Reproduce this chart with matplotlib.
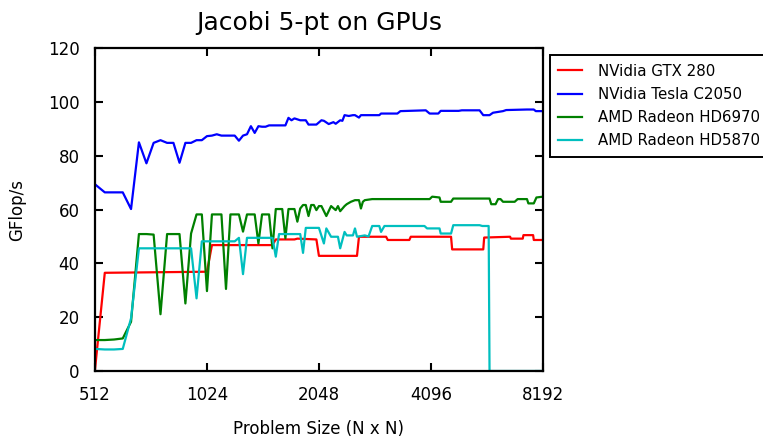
import matplotlib
matplotlib.use("Agg")
import matplotlib.pyplot as plt
from matplotlib.ticker import FixedLocator, FixedFormatter, NullLocator


# traced breakpoints (problem size N, GFlop/s)
gtx280_n = [512, 544, 1024, 1056, 1536, 1568, 1760, 1792, 2016, 2048, 2592, 2624,
            3104, 3136, 3584, 3616, 4640, 4672, 5664, 5696, 6688, 6720, 7232,
            7264, 7712, 7744, 8192]
gtx280_v = [0.5, 36.5, 36.9, 46.8, 46.8, 48.9, 48.9, 49.2, 48.9, 42.8, 42.8, 49.9,
            49.9, 48.7, 48.7, 49.9, 49.9, 45.2, 45.2, 49.6, 49.9, 49.2, 49.2,
            50.5, 50.5, 48.7, 48.7]

c2050_n = [512, 544, 576, 608, 640, 672, 704, 736, 768, 800, 832, 864, 896, 928,
           960, 992, 1024, 1056, 1088, 1120, 1152, 1184, 1216, 1248, 1280, 1312,
           1344, 1376, 1408, 1440, 1472, 1504, 1664, 1696, 1728, 1760, 1824,
           1888, 1920, 2016, 2080, 2112, 2176, 2240, 2272, 2336, 2368, 2400,
           2464, 2528, 2560, 2624, 2656, 2976, 3008, 3328, 3392, 3968, 4064,
           4288, 4352, 4864, 4960, 5536, 5664, 5888, 6016, 6400, 6528, 7424,
           7744, 7840, 8192]
c2050_v = [69.4, 66.4, 66.4, 66.4, 60.2, 85.0, 77.2, 84.8, 85.8, 84.8, 84.8, 77.4,
           84.8, 84.8, 85.8, 85.8, 87.3, 87.5, 88.0, 87.5, 87.5, 87.5, 87.5, 85.6,
           87.5, 88.0, 91.0, 88.5, 91.0, 90.8, 90.8, 91.3, 91.3, 94.1, 93.2, 93.9,
           93.2, 93.2, 91.6, 91.6, 93.2, 93.0, 91.8, 92.5, 91.9, 93.2, 93.0, 95.1,
           94.8, 95.1, 95.1, 94.2, 95.1, 95.1, 95.7, 95.7, 96.6, 96.9, 95.7, 95.7,
           96.7, 96.7, 96.9, 96.9, 95.1, 95.1, 96.0, 96.6, 97.0, 97.2, 97.2, 96.6,
           96.6]

hd6970_n = [512, 544, 576, 608, 640, 672, 704, 736, 768, 800, 832, 864, 896, 928,
            960, 992, 1024, 1056, 1088, 1120, 1152, 1184, 1216, 1248, 1280, 1312,
            1344, 1376, 1408, 1440, 1472, 1504, 1536, 1568, 1600, 1632, 1664,
            1696, 1728, 1760, 1792, 1824, 1856, 1888, 1920, 1952, 1984, 2016,
            2048, 2080, 2144, 2208, 2272, 2304, 2336, 2400, 2432, 2496, 2560,
            2624, 2656, 2688, 2720, 2848, 4064, 4128, 4320, 4352, 4640, 4704,
            5888, 5952, 6112, 6208, 6304, 6400, 6880, 7008, 7424, 7488, 7744,
            7872, 8192]
hd6970_v = [11.5, 11.5, 11.7, 12.1, 18.3, 50.9, 50.9, 50.7, 21.1, 50.9, 50.9, 50.9,
            25.1, 51.1, 58.2, 58.2, 29.7, 58.2, 58.2, 58.2, 30.5, 58.2, 58.2, 58.2,
            51.8, 58.2, 58.2, 58.2, 47.4, 58.2, 58.2, 58.2, 45.6, 60.2, 60.2, 60.2,
            49.3, 60.2, 60.2, 60.2, 55.5, 60.4, 61.7, 61.7, 57.6, 61.7, 61.7, 59.8,
            61.3, 61.3, 57.6, 61.3, 59.8, 61.3, 59.4, 61.3, 62.0, 62.9, 63.5, 63.5,
            60.4, 62.9, 63.5, 63.9, 63.9, 64.8, 64.5, 62.9, 62.9, 64.1, 64.1, 62.0,
            62.0, 63.9, 63.9, 62.9, 62.9, 63.9, 63.9, 62.3, 62.3, 64.5, 64.8]

hd5870_n = [512, 544, 576, 608, 640, 672, 928, 960, 992, 1216, 1248, 1280, 1312,
            1536, 1568, 1600, 1824, 1856, 1888, 2048, 2112, 2144, 2208, 2304,
            2336, 2400, 2432, 2528, 2560, 2592, 2720, 2784, 2848, 2976, 3008,
            3072, 3936, 4000, 4320, 4352, 4640, 4704, 5536, 5632, 5856, 5888,
            8192]
hd5870_v = [8.2, 8.0, 8.0, 8.2, 19.6, 45.6, 45.6, 27.0, 48.2, 48.2, 49.5, 36.0, 49.5,
            49.5, 42.5, 50.9, 50.9, 43.9, 53.2, 53.2, 47.4, 53.0, 49.9, 49.9, 45.6,
            51.7, 50.4, 50.4, 53.0, 49.9, 50.4, 50.0, 53.9, 53.9, 51.7, 53.9, 53.9,
            53.0, 53.0, 51.1, 51.1, 54.2, 54.2, 53.9, 53.9, 0.0, 0.0]

series = [
    ("NVidia GTX 280", gtx280_n, gtx280_v, "#ff0000"),
    ("NVidia Tesla C2050", c2050_n, c2050_v, "#0000ff"),
    ("AMD Radeon HD6970", hd6970_n, hd6970_v, "#008000"),
    ("AMD Radeon HD5870", hd5870_n, hd5870_v, "#00bfbf"),
]

x_ticks = [512, 1024, 2048, 4096, 8192]
y_ticks = [0, 20, 40, 60, 80, 100, 120]


def main() -> None:
    fig = plt.figure(figsize=(7.63, 4.38), dpi=100)
    ax = fig.add_axes([0.1245, 0.153, 0.587, 0.737])

    for label, n, v, color in series:
        ax.plot(n, v, color=color, linewidth=1.6, label=label)

    ax.set_xscale("log", base=2)
    ax.set_xlim(512, 8192)
    ax.set_ylim(0, 120)
    ax.xaxis.set_major_locator(FixedLocator(x_ticks))
    ax.xaxis.set_major_formatter(FixedFormatter([str(t) for t in x_ticks]))
    ax.xaxis.set_minor_locator(NullLocator())
    ax.set_yticks(y_ticks)

    ax.tick_params(axis="both", which="major", direction="in", length=6,
                   width=1.5, top=True, right=True, labelsize=12)
    ax.tick_params(axis="x", pad=11)
    ax.tick_params(axis="y", pad=11)
    for sp in ax.spines.values():
        sp.set_linewidth(1.6)

    ax.set_title("Jacobi 5-pt on GPUs", fontsize=18, pad=13)
    ax.set_xlabel("Problem Size (N x N)", fontsize=12, labelpad=11)
    ax.set_ylabel("GFlop/s", fontsize=12, labelpad=16)

    leg = ax.legend(loc="upper left", bbox_to_anchor=(1.015, 0.978),
                    fontsize=10.8, fancybox=False, framealpha=1,
                    borderaxespad=0, handlelength=1.6, handletextpad=1.1,
                    borderpad=0.55, labelspacing=0.55)
    leg.get_frame().set_edgecolor("black")
    leg.get_frame().set_linewidth(1.4)

    fig.savefig("out.png", dpi=100)


if __name__ == "__main__":
    main()
